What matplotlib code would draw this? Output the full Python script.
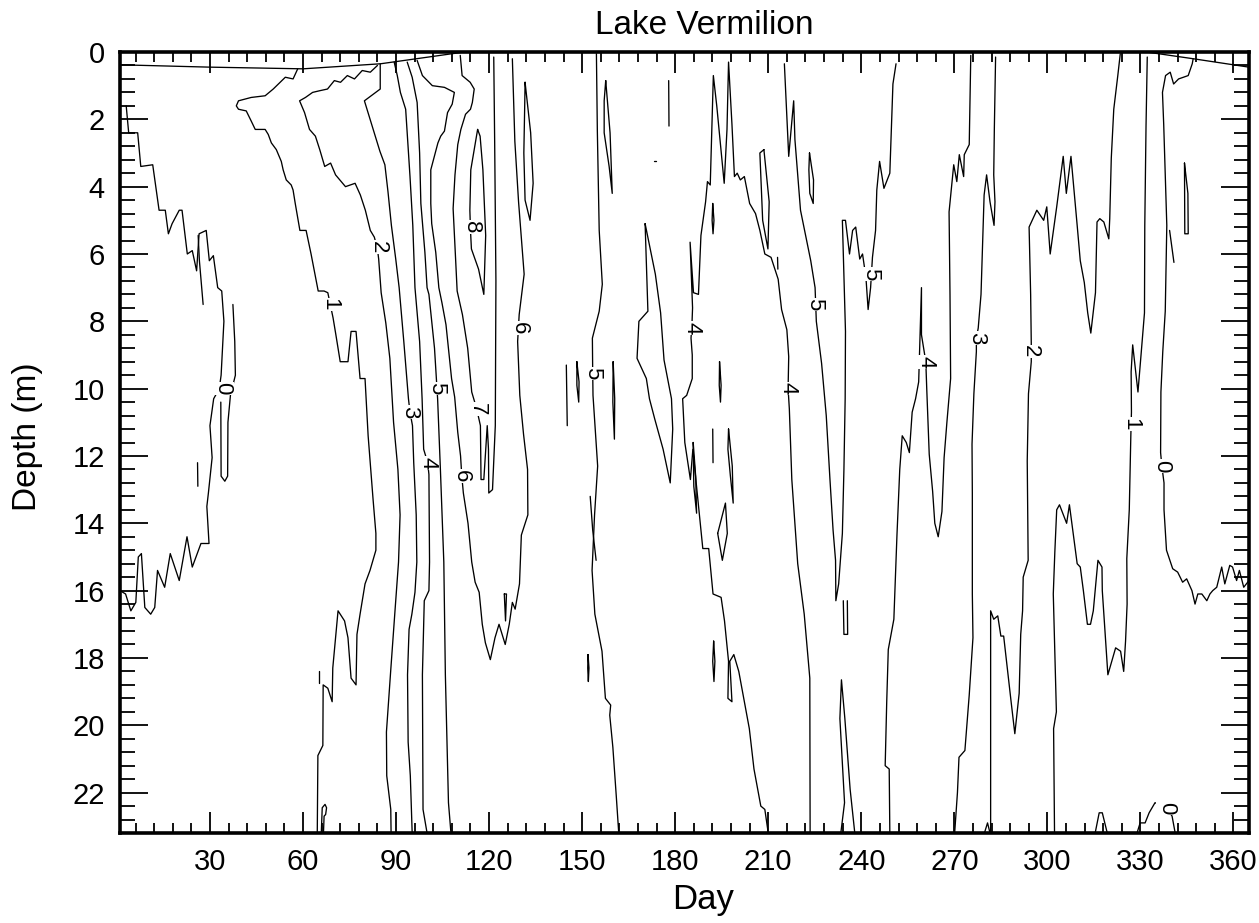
import matplotlib
matplotlib.use("Agg")
import matplotlib.pyplot as plt
from matplotlib.ticker import FixedLocator, MultipleLocator

plt.rcParams['font.family'] = ['Liberation Sans', 'DejaVu Sans']

# ---------------- text / axes data ----------------
title_text = "Lake Vermilion"
x_label = "Day"
y_label = "Depth (m)"
x_ticks = [30, 60, 90, 120, 150, 180, 210, 240, 270, 300, 330, 360]
y_ticks = [0, 2, 4, 6, 8, 10, 12, 14, 16, 18, 20, 22]
x_range = (1, 365)
y_range = (23.2, 0)

# ---------------- isolines (day, depth) ----------------
surface_left = [(1.0, 0.38), (30, 0.45), (60, 0.5), (85, 0.35), (112, 0.0)]
surface_right = [(332, 0.0), (347, 0.2), (365, 0.45)]

iso0_left = [(3.0, 1.6), (3.8, 2.4), (6.7, 2.4), (7.7, 3.4), (11.55, 3.35), (13.6, 4.7), (15.6, 4.7),
             (16.6, 5.4), (17.8, 5.1), (20.1, 4.7), (21.0, 4.7), (22.7, 6.0), (24.3, 5.9), (25.7, 6.5),
             (26.5, 5.4), (28.8, 5.3), (29.8, 6.2), (31.1, 6.05), (32.5, 7.0), (33.8, 7.1), (34.5, 8.0),
             (33.6, 9.6), (33.0, 10.0), (31.2, 10.3), (30.0, 11.1), (30.7, 12.05), (29.5, 13.1), (29.0, 13.5),
             (29.7, 14.6), (27.1, 14.6), (24.3, 15.3), (22.6, 14.4), (20.1, 15.7), (17.2, 14.9), (15.4, 15.9),
             (13.1, 15.4), (12.2, 16.5), (10.9, 16.7), (9.0, 16.5), (7.9, 14.9), (6.9, 15.0), (6.1, 16.35),
             (4.5, 16.6), (2.8, 16.1), (1.0, 16.0)]
iso0_tongue = [(37.4, 7.5), (38.0, 8.6), (38.2, 9.6), (36.6, 10.2), (35.8, 11.0), (35.7, 12.6), (34.8, 12.75),
               (33.6, 12.6), (33.5, 10.4)]
iso0_spike = [(26.2, 5.45), (26.6, 6.2), (27.8, 7.5)]
iso0_tick = [(26.0, 12.2), (26.1, 12.9)]

iso1_spring = [(58.3, 0.5), (56.8, 0.8), (54.3, 0.75), (50.4, 1.1), (47.8, 1.3), (43.3, 1.35), (39.2, 1.45),
               (38.5, 1.6), (39.2, 1.7), (41.7, 1.75), (43.3, 2.05), (44.6, 2.3), (47.8, 2.3), (48.8, 2.45),
               (49.8, 2.7), (51.4, 2.9), (53.0, 3.25), (53.6, 3.5), (54.6, 3.8), (56.2, 3.95), (56.8, 4.1),
               (57.5, 4.5), (59.0, 5.3), (61.0, 5.3), (62.6, 6.0), (64.9, 7.1), (66.8, 7.1), (68.0, 7.15),
               (69.7, 7.9), (70.6, 8.4), (72.0, 9.2), (74.5, 9.2), (75.5, 8.3), (77.1, 8.3), (78.4, 9.7),
               (80.0, 9.7), (81.0, 11.4), (82.6, 13.3), (83.5, 14.3), (83.5, 14.8), (81.6, 15.4), (80.0, 15.8),
               (78.4, 16.7), (77.4, 17.3), (77.1, 18.8), (75.5, 18.6), (74.5, 17.4), (73.4, 16.9), (71.3, 16.6),
               (69.6, 18.3), (69.4, 19.3), (68.0, 18.9), (66.5, 18.8), (66.4, 20.6), (64.8, 20.9), (64.6, 23.2)]
iso1_loop = [(65.9, 23.2), (66.2, 22.45), (67.1, 22.35), (67.6, 22.45), (67.3, 22.65), (66.8, 22.7), (66.6, 23.2)]
iso1_tick = [(65.3, 18.4), (65.3, 18.75)]

iso2_spring = [(84.0, 0.4), (81.7, 0.6), (79.1, 0.55), (76.6, 0.8), (74.3, 0.7), (72.1, 0.9), (70.1, 0.85),
               (67.9, 1.1), (65.4, 1.15), (63.1, 1.2), (60.8, 1.35), (58.9, 1.45), (60.5, 1.8), (62.1, 2.3),
               (64.0, 2.5), (65.4, 2.9), (67.0, 3.4), (68.9, 3.3), (70.5, 3.65), (73.7, 4.0), (76.8, 3.9),
               (78.5, 4.25), (80.1, 4.7), (81.7, 5.3), (83.0, 5.5), (84.0, 5.85), (84.4, 6.15), (85.2, 7.15),
               (86.7, 8.05), (88.0, 9.1), (89.2, 11.0), (90.6, 12.4), (91.3, 13.75), (90.8, 15.15), (89.7, 16.55),
               (88.3, 18.35), (86.9, 20.2), (87.0, 21.5), (88.3, 22.5), (88.4, 23.2)]
iso3_spring = [(84.9, 0.35), (84.9, 1.1), (79.8, 1.45), (81.8, 2.05), (84.8, 2.95), (86.4, 3.35), (87.4, 4.15),
               (88.5, 5.15), (89.9, 6.15), (91.0, 7.0), (92.5, 8.6), (94.0, 10.3), (94.5, 10.7), (95.3, 11.1),
               (95.7, 12.2), (96.5, 13.75), (96.7, 15.15), (96.1, 16.05), (95.1, 16.7), (94.2, 17.15), (93.7, 18.5),
               (93.9, 20.5), (94.6, 21.5), (95.2, 23.2)]
iso4_spring = [(89.4, 0.3), (90.4, 0.7), (91.4, 1.2), (93.1, 1.7), (93.8, 2.7), (94.5, 3.7), (95.4, 5.15),
               (96.1, 7.0), (97.6, 8.6), (98.4, 10.3), (98.9, 11.8), (100.2, 12.2), (100.6, 12.55), (100.8, 15.15),
               (100.6, 16.0), (99.1, 16.3), (98.5, 18.5), (98.7, 22.5), (100.0, 23.2)]
iso5_spring = [(93.6, 0.3), (95.2, 0.75), (96.8, 1.5), (97.6, 3.0), (98.0, 4.5), (99.3, 5.95), (100.0, 7.0),
               (100.6, 7.2), (102.4, 8.8), (103.0, 9.7), (103.4, 10.3), (104.3, 12.4), (105.4, 15.15),
               (105.9, 18.5), (106.9, 22.3), (107.7, 23.2)]
iso6_summer = [(96.8, 0.25), (98.5, 0.7), (101.7, 1.0), (105.6, 1.05), (108.8, 1.2), (108.1, 1.55), (106.6, 1.8),
               (105.6, 2.35), (104.4, 2.5), (103.5, 2.7), (101.2, 3.5), (101.2, 4.5), (101.5, 5.1), (102.8, 5.95),
               (103.8, 7.0), (104.8, 7.45), (106.1, 8.1), (107.9, 9.7), (108.9, 10.25), (109.9, 11.3),
               (110.8, 12.0), (111.2, 12.6), (111.7, 13.1), (113.2, 14.0), (114.4, 15.15), (115.5, 15.75),
               (116.8, 16.05), (117.8, 17.0), (118.8, 17.55), (120.4, 18.05), (121.9, 17.4), (123.2, 17.0),
               (124.2, 17.3), (125.2, 17.6), (126.5, 17.0), (127.5, 16.35), (128.4, 16.55), (129.8, 15.8),
               (130.4, 14.35), (132.5, 13.75), (132.4, 12.4), (131.1, 11.35), (129.9, 10.2), (129.2, 8.6),
               (129.7, 7.8), (131.3, 6.6), (129.5, 4.45), (128.3, 2.65), (127.5, 0.2)]
iso6_loop = [(124.9, 16.1), (125.3, 16.9), (125.6, 16.1), (124.9, 16.1)]
iso7_summer = [(110.7, 0.1), (111.3, 0.7), (113.9, 0.9), (115.2, 1.1), (114.6, 1.5), (114.0, 1.7), (112.4, 1.85),
               (110.9, 2.3), (109.9, 2.75), (109.0, 3.65), (108.4, 4.65), (109.2, 6.15), (109.7, 7.1),
               (111.4, 7.8), (113.1, 8.8), (114.4, 10.1), (116.0, 10.6), (117.2, 11.1), (117.4, 12.7),
               (118.3, 12.7), (119.4, 11.1), (119.8, 11.8), (119.9, 13.1), (121.1, 13.0), (122.0, 11.1),
               (122.2, 6.8), (121.8, 2.7), (121.5, 0.15)]
iso8_summer = [(116.3, 2.3), (114.1, 3.5), (113.8, 4.7), (114.0, 5.3), (114.3, 5.85), (116.6, 6.45), (118.3, 7.2),
               (118.9, 5.45), (118.0, 3.5), (117.1, 2.5), (116.3, 2.3)]
loop_a = [(131.6, 0.9), (133.4, 2.4), (134.2, 3.9), (133.2, 5.0), (131.6, 4.4), (131.2, 3.0), (131.5, 1.5),
          (131.6, 0.9)]
iso5_mid = [(154.6, 0.05), (154.9, 2.35), (155.5, 5.3), (156.5, 6.9), (155.5, 7.7), (153.3, 8.5), (153.4, 9.5),
            (153.5, 10.2), (155.0, 12.3), (154.0, 13.75), (153.2, 15.4), (154.1, 16.7), (156.4, 17.8),
            (157.5, 19.2), (159.2, 19.4), (158.9, 19.7), (159.9, 20.65), (161.0, 22.1), (161.8, 23.2)]
iso5_mid_spike = [(152.6, 13.2), (153.4, 14.2), (154.5, 15.1)]
loop_b = [(157.6, 0.85), (159.0, 2.4), (159.7, 4.2), (158.7, 3.4), (157.1, 2.4), (157.1, 1.45), (157.6, 0.85)]
bit_a = [(177.9, 0.85), (178.0, 2.2)]
bit_b = [(144.9, 9.3), (145.2, 11.1)]
bit_c = [(173.2, 3.25), (173.8, 3.25)]
loop_c = [(148.3, 9.2), (149.0, 9.8), (148.9, 10.4), (148.3, 9.9), (148.3, 9.2)]
loop_d = [(160.0, 9.2), (160.5, 10.3), (160.4, 11.5), (159.9, 10.4), (160.0, 9.2)]
loop_e = [(151.9, 17.9), (152.2, 18.3), (152.0, 18.7), (151.8, 18.3), (151.9, 17.9)]
loop_f = [(192.4, 17.5), (192.8, 18.1), (192.5, 18.7), (192.1, 18.1), (192.4, 17.5)]
finger_loop = [(170.3, 5.1), (173.6, 6.6), (175.3, 7.75), (176.4, 9.15), (178.8, 10.3), (179.2, 11.2),
               (178.4, 12.8), (176.1, 11.8), (173.4, 10.9), (171.7, 10.3), (170.7, 9.7), (167.7, 9.1),
               (168.3, 8.0), (171.2, 7.7), (170.3, 5.1)]
loop_g = [(192.1, 4.5), (192.5, 5.0), (192.2, 5.4), (191.9, 5.0), (192.1, 4.5)]
bit_d = [(213.0, 6.1), (213.1, 6.45)]
loop_h = [(208.6, 2.9), (210.3, 4.45), (209.9, 5.85), (208.2, 5.0), (207.3, 3.0), (208.6, 2.9)]
loop_i = [(223.3, 3.0), (224.6, 3.8), (224.5, 4.5), (223.4, 4.2), (223.1, 3.5), (223.3, 3.0)]
bit_e = [(192.1, 11.2), (192.2, 12.2)]
loop_j = [(194.3, 9.2), (194.8, 9.9), (194.6, 10.4), (194.2, 9.9), (194.3, 9.2)]
loop_k = [(197.2, 11.2), (198.4, 12.3), (198.7, 13.4), (197.8, 12.6), (197.0, 11.8), (197.2, 11.2)]
loop_l = [(193.7, 14.3), (196.2, 13.4), (196.8, 14.3), (195.2, 15.1), (193.7, 14.3)]
loop_m = [(185.8, 11.6), (186.6, 12.6), (186.9, 13.7), (186.0, 12.9), (185.8, 11.6)]

iso4_mid = [(210.0, 23.2), (208.9, 22.5), (207.6, 22.4), (205.4, 21.3), (203.9, 20.1), (201.5, 18.9),
            (200.5, 18.4), (198.9, 17.9), (197.6, 18.1), (198.3, 19.3), (197.0, 19.2), (197.2, 18.1),
            (195.9, 16.9), (194.8, 16.2), (192.2, 16.1), (190.8, 14.75), (188.9, 14.75), (186.5, 12.55),
            (185.7, 11.8), (184.9, 12.7), (183.1, 11.6), (182.4, 10.3), (183.7, 10.2), (185.5, 9.7),
            (185.5, 9.0), (185.1, 8.5), (185.4, 8.1), (185.6, 7.6), (184.8, 5.65), (185.9, 7.15), (187.5, 7.2),
            (188.3, 5.45), (189.8, 4.45), (190.4, 3.85), (191.3, 3.95), (192.3, 0.7), (193.4, 1.6), (195.8, 3.9),
            (196.7, 2.3), (197.2, 0.3), (198.3, 2.15), (199.1, 3.7), (200.0, 3.6), (201.0, 3.8), (202.3, 3.7),
            (204.0, 4.5), (205.9, 4.8), (207.3, 5.3), (208.9, 6.0), (210.9, 6.1), (213.2, 6.75), (214.3, 7.65),
            (216.0, 8.25), (216.6, 9.05), (216.4, 10.0), (216.8, 10.6), (217.6, 12.7), (219.5, 15.2),
            (221.6, 16.7), (223.4, 18.6), (223.5, 23.2)]
iso5_autumn = [(215.2, 0.35), (216.6, 3.1), (218.2, 1.45), (218.6, 2.6), (220.4, 4.7), (223.7, 6.2), (225.1, 7.0),
               (225.5, 8.0), (227.2, 9.25), (228.7, 10.8), (229.9, 12.7), (230.9, 14.2), (231.7, 15.1),
               (231.8, 16.3), (232.7, 15.8), (233.9, 14.3), (234.4, 12.4), (234.8, 10.3), (234.9, 8.3),
               (233.9, 5.0), (234.9, 5.0), (236.2, 6.0), (237.2, 5.3), (238.2, 5.2), (239.5, 6.15), (240.4, 6.0),
               (241.5, 6.7), (242.2, 7.65), (243.0, 7.0), (243.6, 6.1), (244.6, 5.3), (245.0, 4.1), (245.9, 3.25),
               (247.3, 4.05), (249.2, 3.6), (250.2, 0.95), (251.2, 0.35)]
iso5_tip = [(234.2, 16.3), (234.4, 17.3), (235.6, 17.3), (235.5, 16.3)]
bottom_finger = [(233.4, 23.2), (234.6, 22.3), (233.1, 19.8), (233.6, 18.65), (234.7, 19.8), (236.4, 21.9),
                 (237.9, 23.2)]
iso4_autumn = [(275.3, 0.1), (274.8, 2.75), (273.2, 3.05), (273.0, 3.7), (271.6, 3.05), (270.8, 3.85),
               (269.8, 3.35), (268.3, 4.75), (268.6, 7.2), (268.8, 9.7), (267.6, 11.0), (266.7, 12.05),
               (266.0, 13.65), (264.8, 14.4), (263.7, 14.0), (263.0, 13.05), (261.9, 11.95), (261.1, 10.0),
               (260.8, 9.2), (259.4, 8.4), (259.4, 7.0), (258.5, 9.8), (257.5, 10.3), (256.4, 10.7), (255.5, 11.9),
               (254.5, 11.6), (253.2, 11.4), (252.4, 12.4), (251.5, 14.35), (250.5, 16.85), (248.7, 17.75),
               (248.2, 19.3), (247.7, 21.2), (249.0, 21.3), (249.2, 23.2)]
iso3_autumn = [(283.3, 0.15), (282.9, 2.25), (282.7, 3.65), (283.1, 4.45), (282.8, 5.15), (281.5, 4.45),
               (280.4, 3.65), (279.6, 4.25), (278.6, 7.2), (277.7, 8.2), (277.1, 8.5), (277.1, 8.9), (276.3, 10.15),
               (275.7, 11.65), (275.8, 13.1), (275.8, 16.1), (276.0, 17.4), (274.8, 19.1), (273.4, 20.75),
               (271.5, 20.95), (271.0, 22.0), (270.1, 23.2)]
iso2_autumn = [(281.7, 23.2), (281.7, 16.6), (282.7, 16.85), (284.0, 16.75), (285.0, 17.35), (285.9, 17.35),
               (288.3, 19.3), (289.5, 20.25), (290.9, 19.05), (291.4, 17.3), (292.0, 16.6), (292.2, 15.6),
               (293.8, 15.1), (293.5, 12.15), (293.9, 10.15), (294.8, 9.2), (294.8, 8.65), (294.6, 7.2),
               (294.1, 5.2), (296.6, 4.7), (298.8, 5.0), (299.8, 4.6), (300.9, 6.0), (303.0, 4.6), (305.1, 3.1),
               (306.1, 4.2), (307.6, 3.1), (309.6, 5.15), (310.6, 6.2), (311.9, 6.85), (313.0, 7.75), (314.0, 8.35),
               (315.5, 7.15), (316.0, 5.05), (316.9, 4.95), (318.2, 5.05), (319.8, 5.55), (320.1, 4.95),
               (320.6, 3.15), (321.4, 1.7), (322.7, 0.7), (323.5, 0.05)]
bump_a = [(279.7, 23.2), (280.7, 22.9), (281.5, 23.2)]
iso1_autumn = [(332.2, 0.15), (331.8, 2.2), (331.4, 5.15), (331.3, 7.75), (330.1, 9.1), (329.2, 10.1),
               (327.5, 8.7), (327.0, 9.5), (327.1, 10.7), (327.0, 11.05), (326.9, 11.4), (326.4, 13.6),
               (325.6, 15.05), (325.7, 16.4), (325.2, 17.5), (324.6, 18.4), (323.6, 17.8), (322.0, 17.7),
               (319.5, 18.5), (317.7, 16.0), (317.6, 15.3), (316.3, 15.1), (314.8, 16.6), (313.9, 17.0),
               (312.9, 17.0), (311.6, 16.0), (310.6, 15.3), (309.6, 15.2), (307.1, 13.45), (306.2, 14.0),
               (303.9, 13.45), (303.0, 13.6), (302.4, 14.85), (301.9, 16.1), (302.9, 19.6), (302.0, 20.1),
               (302.3, 23.2)]
bump_b = [(315.4, 23.2), (316.7, 22.6), (317.7, 22.6), (319.3, 23.2)]
iso0_autumn = [(347.0, 0.2), (346.7, 0.35), (345.4, 0.7), (342.3, 0.8), (340.7, 0.95), (339.6, 0.6), (338.1, 0.7),
               (337.1, 1.2), (337.5, 2.15), (338.5, 5.15), (338.0, 7.7), (337.2, 8.9), (336.6, 10.1), (336.5, 11.9),
               (336.9, 12.3), (337.6, 12.8), (337.6, 13.6), (338.4, 14.8), (340.4, 15.35), (342.0, 15.45),
               (343.6, 15.75), (344.9, 15.65), (346.6, 16.0), (347.6, 16.4), (348.5, 16.1), (349.8, 16.1),
               (351.4, 16.3), (352.4, 16.1), (353.3, 16.0), (354.6, 15.9), (356.2, 15.3), (357.2, 15.8),
               (358.8, 15.25), (359.7, 15.3), (361.0, 15.7), (361.9, 15.4), (363.3, 15.9), (365.0, 15.7)]
loop_n = [(344.2, 3.3), (345.3, 4.2), (345.4, 5.4), (344.3, 5.4), (344.2, 3.3)]
bit_f = [(339.4, 5.3), (340.8, 6.25)]
iso0_bottom = [(328.9, 23.2), (329.9, 22.9), (331.5, 22.9), (332.8, 22.6), (334.7, 22.3), (338.5, 22.45),
               (340.2, 22.7), (341.2, 23.2)]

all_lines = [surface_left, surface_right, iso0_left, iso0_tongue, iso0_spike, iso0_tick, iso1_spring, iso1_loop,
             iso1_tick, iso2_spring, iso3_spring, iso4_spring, iso5_spring, iso6_summer, iso6_loop, iso7_summer,
             iso8_summer, loop_a, iso5_mid, iso5_mid_spike, loop_b, bit_a, bit_b, bit_c, loop_c, loop_d, loop_e,
             loop_f, finger_loop, loop_g, bit_d, loop_h, loop_i, bit_e, loop_j, loop_k, loop_l, loop_m, iso4_mid,
             iso5_autumn, iso5_tip, bottom_finger, iso4_autumn, iso3_autumn, iso2_autumn, bump_a, iso1_autumn,
             bump_b, iso0_autumn, loop_n, bit_f, iso0_bottom]

# contour labels: (text, day, depth)
contour_labels = [("0", 34.0, 10.0), ("1", 68.6, 7.5), ("2", 84.3, 5.8), ("3", 94.3, 10.7), ("4", 100.2, 12.2),
                  ("5", 103.2, 10.0), ("6", 111.0, 12.6), ("7", 116.2, 10.6), ("8", 114.2, 5.2),
                  ("6", 129.7, 8.2), ("5", 153.4, 9.55), ("4", 185.4, 8.2), ("4", 216.4, 10.0),
                  ("5", 225.0, 7.5), ("5", 243.1, 6.6), ("4", 260.8, 9.2), ("3", 277.1, 8.5),
                  ("2", 294.5, 8.9), ("1", 327.0, 11.05), ("0", 336.9, 12.3), ("0", 338.5, 22.45)]

# ---------------- drawing ----------------
W, H = 1259, 923
fig = plt.figure(figsize=(W / 100, H / 100), dpi=100)
ax = fig.add_axes([120 / W, 1 - 833 / H, (1249 - 120) / W, (833 - 52) / H])

for pts in all_lines:
    xs = [p[0] for p in pts]
    ys = [p[1] for p in pts]
    ax.plot(xs, ys, color='black', lw=0.95, solid_joinstyle='round', solid_capstyle='round', zorder=2)

for txt, d, z in contour_labels:
    ax.text(d, z, txt, rotation=-90, ha='center', va='center', fontsize=16, zorder=3,
            bbox=dict(facecolor='white', edgecolor='none', pad=0.4))

ax.set_xlim(*x_range)
ax.set_ylim(*y_range)
ax.xaxis.set_major_locator(FixedLocator(x_ticks))
ax.xaxis.set_minor_locator(MultipleLocator(6))
ax.yaxis.set_major_locator(FixedLocator(y_ticks))
ax.yaxis.set_minor_locator(MultipleLocator(0.4))
ax.tick_params(which='both', direction='in', top=True, right=True, width=1.3, colors='black')
ax.tick_params(axis='x', which='major', length=15, labelsize=21, pad=11)
ax.tick_params(axis='x', which='minor', length=7)
ax.tick_params(axis='y', which='major', length=20, labelsize=21, pad=11)
ax.tick_params(axis='y', which='minor', length=11)
for s in ax.spines.values():
    s.set_linewidth(2.6)

fig.text(704 / W, 1 - 25 / H, title_text, ha='center', va='center', fontsize=24)
fig.text(703 / W, 1 - 900 / H, x_label, ha='center', va='center', fontsize=25)
fig.text(28 / W, 1 - 437 / H, y_label, ha='center', va='center', rotation=90, fontsize=24)

fig.savefig("out.png", dpi=100)
